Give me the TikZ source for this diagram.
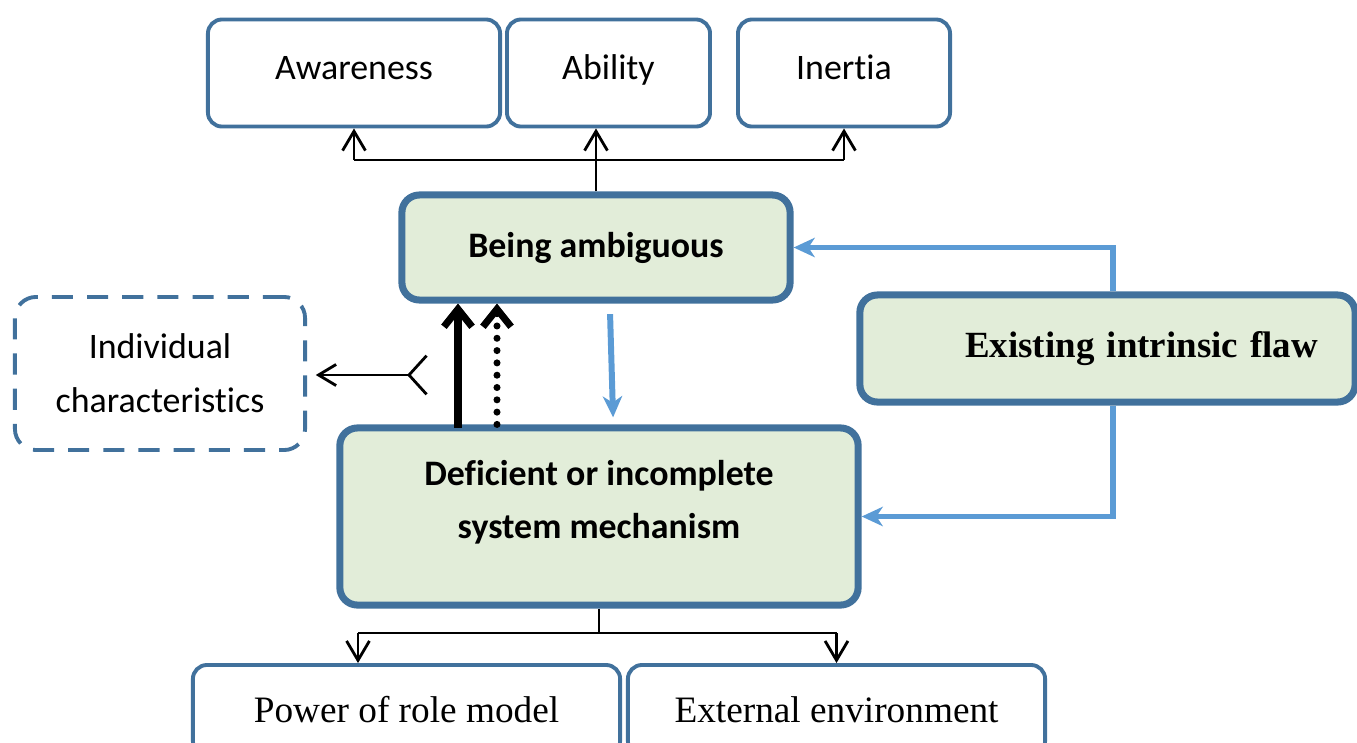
\documentclass[tikz,border=0pt]{standalone}
\usepackage{fontspec}
\setmainfont[Ligatures=NoCommon]{Carlito}
\newfontfamily\timesfont{Liberation Serif}
\usetikzlibrary{arrows.meta}

\definecolor{boxblue}{HTML}{41719C}
\definecolor{linkblue}{HTML}{5B9BD5}
\definecolor{boxgreen}{HTML}{E2EDD9}

\tikzset{
  topbox/.style={draw=boxblue, line width=1.1pt, rounded corners=4pt, fill=white,
    minimum height=1.07cm, text height=7.2pt, text depth=3.6pt, font=\fontsize{10.2}{15}\selectfont},
  lowbox/.style={draw=boxblue, line width=1.1pt, rounded corners=4pt, fill=white,
    minimum height=0.9cm, font=\timesfont\fontsize{10.6}{15}\selectfont},
  greenbox/.style={draw=boxblue, line width=2pt, rounded corners=5pt, fill=boxgreen,
    align=center, font=\fontsize{10.2}{15}\selectfont\bfseries},
  dashbox/.style={draw=boxblue, line width=1.1pt, rounded corners=6pt,
    dash pattern=on 6pt off 4pt, align=center, font=\fontsize{10.2}{15.3}\selectfont},
  tree/.style={line width=0.8pt},
  treearrow/.style={tree, -{Straight Barb[length=5.5pt,width=6.5pt]}},
  bluearrow/.style={draw=linkblue, line width=1.7pt,
    -{Stealth[length=6pt,width=5.5pt,inset=1.8pt]}},
  boldarrow/.style={line width=2pt, -{Straight Barb[length=5pt,width=8pt]}},
}

\begin{document}
\begin{tikzpicture}[x=0.01cm, y=-0.01cm]
    % Define the frame
    \useasboundingbox (0,0) rectangle (1357,742);

    % Top row of boxes
    \foreach \name/\x/\w/\txt in {aware/354/2.92/Awareness, ability/608.5/2.03/Ability, inertia/844/2.12/Inertia}
    {
        \node[topbox, minimum width=\w cm] (\name) at (\x,73) {\txt};
    }

    % Middle boxes
    \node[greenbox, minimum width=3.88cm, minimum height=1.05cm] (ambig) at (596,247.5) {Being ambiguous};
    \node[greenbox, minimum width=5.18cm, minimum height=1.77cm, text depth=9.7pt]
        (defic) at (599,516.5) {Deficient or incomplete\\system mechanism};
    \node[greenbox, minimum width=4.95cm, minimum height=1.07cm, text width=4.21cm,
        inner xsep=0.37cm, align=right, font=\timesfont\fontsize{10.5}{15}\selectfont\bfseries]
        (flaw) at (1107.5,348.5) {Existing intrinsic flaw};
    \node[dashbox, minimum width=2.9cm, minimum height=1.53cm] (indiv) at (160,373.5)
        {Individual\\characteristics};

    % Bottom row of boxes
    \node[lowbox, minimum width=4.27cm] (power) at (406.5,710) {Power of role model};
    \node[lowbox, minimum width=4.17cm] (extern) at (836.5,710) {External environment};

    % Helper points
    \coordinate (fork) at (596,160);
    \coordinate (split) at (599,633);
    \coordinate (powerx) at (358,0);
    \coordinate (flawx) at (1113,0);
    \coordinate (solidx) at (458,0);
    \coordinate (dotx) at (497,0);
    \coordinate (tail) at (428,375);

    % Tree to the top row
    \draw[tree] (ambig.north) -- (fork);
    \draw[tree] (fork -| aware.south) -- (fork -| inertia.south);
    \draw[treearrow] (fork -| aware.south) -- (aware.south);
    \draw[treearrow] (fork) -- (fork |- ability.south);
    \draw[treearrow] (fork -| inertia.south) -- (inertia.south);

    % Tree to the bottom row
    \draw[tree] (defic.south) -- (split);
    \draw[tree] (split -| powerx) -- (split -| extern.north);
    \draw[treearrow] (split -| powerx) -- (power.north -| powerx);
    \draw[treearrow] (split -| extern.north) -- (extern.north);

    % Blue links
    \draw[bluearrow] (flaw.north -| flawx) |- (ambig.east);
    \draw[bluearrow] (flaw.south -| flawx) |- (defic.east);
    \draw[bluearrow] ([xshift=4pt,yshift=-3pt]ambig.south) -- ([xshift=4pt,yshift=2pt]defic.north);

    % Upward arrows
    \draw[boldarrow] ([yshift=-1pt]defic.north -| solidx) -- (ambig.south -| solidx);
    \draw[boldarrow, line cap=round, dash pattern=on 0pt off 3.5pt] (defic.north -| dotx) -- (ambig.south -| dotx);

    % Arrow to the individual box
    \draw[tree, {Straight Barb[reversed,length=5pt,width=11pt]}-{Straight Barb[length=5pt,width=6pt]},
        shorten >=2.5pt] (tail) -- (tail -| indiv.east);
\end{tikzpicture}
\end{document}
